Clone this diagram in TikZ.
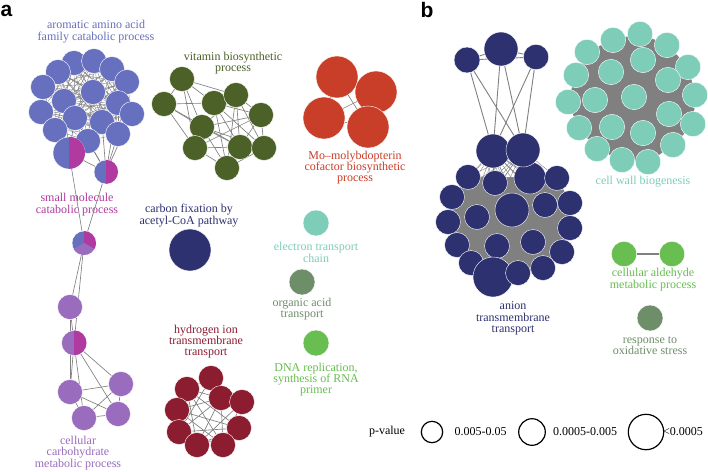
\documentclass[tikz,border=0pt]{standalone}
\usepackage{fontspec}
\setmainfont{Liberation Serif}
\newfontfamily\panelfont{Liberation Sans}
\pgfdeclarelayer{bg}
\pgfsetlayers{bg,main}
\definecolor{aroma}{RGB}{102,112,190}
\definecolor{magen}{RGB}{176,58,160}
\definecolor{lav}{RGB}{154,108,190}
\definecolor{vitg}{RGB}{75,97,40}
\definecolor{mored}{RGB}{200,62,40}
\definecolor{navy}{RGB}{45,49,112}
\definecolor{teal}{RGB}{125,205,185}
\definecolor{ggreen}{RGB}{110,142,106}
\definecolor{bgreen}{RGB}{104,190,80}
\definecolor{dred}{RGB}{140,28,48}
\definecolor{edgegray}{RGB}{128,128,128}
\begin{document}
\begin{tikzpicture}[x=1pt,y=-1pt,
  bub/.style={circle,inner sep=0pt,minimum size={2*#1pt},draw=white,line width=0.4pt},
  lbl/.style={align=center,font=\fontsize{12}{11.3}\selectfont,inner sep=0pt},
  edge/.style={draw=edgegray,line width=0.65pt},
  legc/.style={circle,inner sep=0pt,minimum size={2*#1pt},draw=black,line width=1.2pt},
  panel/.style={font=\panelfont\bfseries\fontsize{21}{21}\selectfont,inner sep=0pt}]
\useasboundingbox (0,0) rectangle (708,471);

% ---------------- panel labels
\node[panel] (pa) at (6.5,11) {a};
\node[panel] (pb) at (427,10) {b};

% ---------------- aromatic amino acid cluster
\foreach \n/\x/\y in {1/74/63,2/94/61,3/112/69,4/58/72,5/127/82,6/43/87,7/93/92,8/64/101,
  9/118/103,10/41/112,11/132/114,12/75/118,13/102/122,14/55/130,15/118/134,16/88/141}
  \node[bub=12.5,fill=aroma] (A\n) at (\x,\y) {};
\node[bub=16,fill=aroma] (P1) at (69,153) {};
\node[bub=12,fill=aroma] (P2) at (106,172) {};
\node[bub=12,fill=aroma] (P3) at (84,243) {};
\fill[magen] (P1.north) arc[start angle=90,end angle=-90,radius=16pt] -- cycle;
\fill[magen] (P2.north) arc[start angle=90,end angle=-90,radius=12pt] -- cycle;
\fill[magen] (P3.center) -- +(90:12pt) arc[start angle=90,end angle=-30,radius=12pt] -- cycle;
\fill[lav] (P3.center) -- +(-30:12pt) arc[start angle=-30,end angle=-150,radius=12pt] -- cycle;
\node[lbl,text=aroma] (Lar) at (96,31.5) {aromatic amino acid\\family catabolic process};
\node[lbl,text=magen] (Lsm) at (77,204.5) {small molecule\\catabolic process};

% ---------------- cellular carbohydrate
\node[bub=12.5,fill=lav] (C1) at (70,307) {};
\node[bub=12.5,fill=lav] (C2) at (74,343) {};
\fill[magen] (C2.north) arc[start angle=90,end angle=-90,radius=12.5pt] -- cycle;
\node[bub=12.5,fill=lav] (C3) at (70,392) {};
\node[bub=12.5,fill=lav] (C4) at (121,384) {};
\node[bub=12.5,fill=lav] (C5) at (84,418) {};
\node[bub=12.5,fill=lav] (C6) at (118,414) {};
\node[lbl,text=lav] (Lcc) at (78,453) {cellular\\carbohydrate\\metabolic process};

% ---------------- vitamin
\foreach \n/\x/\y in {1/182/79,2/164/104,3/214/103,4/236/95,5/261/115,6/202/127,
  7/195/148,8/240/147,9/264/148,10/227/168}
  \node[bub=12.5,fill=vitg] (V\n) at (\x,\y) {};
\node[lbl,text=vitg] (Lvi) at (233,63) {vitamin biosynthetic\\process};

% ---------------- Mo-molybdopterin
\node[bub=21,fill=mored] (M1) at (337,77) {};
\node[bub=21,fill=mored] (M2) at (376,92) {};
\node[bub=21,fill=mored] (M3) at (324,118) {};
\node[bub=21,fill=mored] (M4) at (368,127) {};
\node[lbl,text=mored] (Lmo) at (355,167.5) {Mo\textendash molybdopterin\\cofactor biosynthetic\\process};

% ---------------- carbon fixation
\node[lbl,text=navy] (Lcf) at (189,215.5) {carbon fixation by\\acetyl-CoA pathway};
\node[bub=21,fill=navy] (CF) at (190,250) {};

% ---------------- singles
\node[bub=13,fill=teal] (ET) at (316,223) {};
\node[lbl,text=teal] (Let) at (316,252.5) {electron transport\\chain};
\node[bub=13,fill=ggreen] (OA) at (302,282) {};
\node[lbl,text=ggreen] (Loa) at (302,309) {organic acid\\transport};
\node[bub=13,fill=bgreen] (DR) at (316,343) {};
\node[lbl,text=bgreen] (Ldr) at (316,379.5) {DNA replication,\\synthesis of RNA\\primer};

% ---------------- hydrogen ion
\foreach \n/\x/\y in {1/211/378,2/187/389,3/221/398,4/242/402,5/177/410,6/239/428,
  7/179/432,8/197/445,9/223/445}
  \node[bub=12.5,fill=dred] (H\n) at (\x,\y) {};
\node[lbl,text=dred] (Lhy) at (206,341.5) {hydrogen ion\\transmembrane\\transport};

% ---------------- anion transmembrane transport
\node[bub=13,fill=navy] (T1) at (467,60) {};
\node[bub=17,fill=navy] (T2) at (501,49) {};
\node[bub=12.7,fill=navy] (T3) at (536,57) {};
\foreach \n/\x/\y/\r in {1/468/177/12.5,2/495/183/12.5,3/530/178/16,4/557/178/12.5,
  5/452/197/12.5,6/512/210/17,7/545/205/12.5,8/570/203/12.5,9/448/222/12.5,
  10/477/217/12.5,11/570/228/12.5,12/457/245/12.5,13/497/246/12.5,14/533/242/12.5,
  15/562/252/12.5,16/471/263/12.5,17/493/277/20,18/518/273/12.5,19/543/268/12.5}
  \node[bub=\r,fill=navy] (L\n) at (\x,\y) {};
\node[bub=17,fill=navy] (B1) at (493,151) {};
\node[bub=17,fill=navy] (B2) at (523,150) {};
\node[lbl,text=navy] (Lan) at (513,318.5) {anion\\transmembrane\\transport};

% ---------------- cell wall biogenesis
\foreach \n/\x/\y in {1/640/34,2/613/40,3/667/45,4/587/52,5/643/60,6/688/67,7/611/72,
  8/576/75,9/668/80,10/634/97,11/695/95,12/568/102,13/595/100,14/669/114,15/693/124,
  16/579/128,17/612/127,18/643/133,19/673/145,20/597/149,21/622/160,22/648/162}
  \node[bub=12.7,fill=teal] (W\n) at (\x,\y) {};
\node[lbl,text=teal] (Lcw) at (643,182) {cell wall biogenesis};

% ---------------- aldehyde / oxidative
\node[bub=12.7,fill=bgreen] (D1) at (624,254) {};
\node[bub=12.7,fill=bgreen] (D2) at (672,254) {};
\node[lbl,text=bgreen] (Lal) at (653,279.5) {cellular aldehyde\\metabolic process};
\node[bub=13,fill=ggreen] (OX) at (650,318) {};
\node[lbl,text=ggreen] (Lox) at (650,345.5) {response to\\oxidative stress};

% ---------------- legend
\node[lbl] (Lpv) at (387,432) {p-value};
\node[legc=10.7] (G1) at (432,432) {};
\node[lbl] (Lg1) at (480.5,432) {0.005-0.05};
\node[legc=13.3] (G2) at (532,432) {};
\node[lbl] (Lg2) at (585,432) {0.0005-0.005};
\node[legc=17.7] (G3) at (646,432) {};
\node[lbl,anchor=west] (Lg3) at (663,432) {<0.0005};

% ================= edges (background layer)
\begin{pgfonlayer}{bg}
  \fill[white] (0,0) rectangle (708,471);
  % hull fills for dense clusters
  \fill[edgegray] (W1.center) -- (W3.center) -- (W6.center) -- (W11.center) -- (W15.center)
    -- (W19.center) -- (W22.center) -- (W21.center) -- (W20.center) -- (W16.center)
    -- (W12.center) -- (W8.center) -- (W4.center) -- (W2.center) -- cycle;
  \fill[edgegray] (L1.center) -- (L3.center) -- (L4.center) -- (L8.center) -- (L11.center)
    -- (L15.center) -- (L19.center) -- (L18.center) -- (L17.center) -- (L16.center)
    -- (L12.center) -- (L9.center) -- (L5.center) -- cycle;
  % aromatic all pairs
  \foreach \i in {1,...,15}{
    \pgfmathtruncatemacro\s{\i+1}
    \foreach \j in {\s,...,16}{\draw[edge,line width=0.4pt] (A\i) -- (A\j);}}
  \foreach \a in {A8,A10,A12,A14,A16,A13}{\draw[edge] (P1) -- (\a);}
  \foreach \a in {A16,A15,A13,A11,A9,A12,P1}{\draw[edge] (P2) -- (\a);}
  \draw[edge] (P1) -- (P3);
  \draw[edge] (P2) -- (P3);
  \draw[edge] (P3) -- (C1);
  \draw[edge] (P3) -- (C2);
  % carbohydrate
  \foreach \a/\b in {C1/C2,C1/C3,C2/C3,C2/C4,C2/C5,C2/C6,C3/C4,C3/C5,C3/C6,C4/C5,C4/C6,C5/C6}
    {\draw[edge] (\a) -- (\b);}
  % vitamin
  \foreach \a/\b in {V1/V2,V1/V3,V1/V4,V1/V6,V1/V7,V2/V3,V2/V6,V2/V7,V2/V8,V3/V5,V3/V8,V3/V9,
    V3/V10,V4/V5,V4/V6,V4/V8,V4/V9,V4/V10,V5/V6,V5/V7,V5/V8,V5/V9,V6/V8,V6/V9,V6/V10,
    V7/V8,V7/V10,V8/V9,V8/V10,V9/V10}
    {\draw[edge] (\a) -- (\b);}
  % Mo
  \foreach \a/\b in {M1/M2,M1/M3,M1/M4,M2/M3,M2/M4,M3/M4}{\draw[edge] (\a) -- (\b);}
  % hydrogen
  \foreach \a/\b in {H1/H2,H1/H3,H1/H4,H1/H7,H2/H3,H2/H5,H2/H6,H2/H8,H2/H9,H3/H4,H3/H5,
    H3/H7,H3/H8,H3/H9,H4/H6,H4/H8,H4/H9,H5/H6,H5/H7,H5/H9,H6/H7,H6/H8,H6/H9,H7/H8,H7/H9,H8/H9}
    {\draw[edge] (\a) -- (\b);}
  % anion
  \foreach \a/\b in {T1/T2,T2/T3,T1/T3,T1/B1,T1/B2,T2/B1,T2/B2,T3/B1,T3/B2,B1/B2}
    {\draw[edge,line width=0.9pt] (\a) -- (\b);}
  \foreach \b in {B1,B2}{\foreach \j in {1,...,19}{\draw[edge,line width=0.4pt] (\b) -- (L\j);}}
  \foreach \i in {1,...,18}{
    \pgfmathtruncatemacro\s{\i+1}
    \foreach \j in {\s,...,19}{\draw[edge,line width=0.5pt] (L\i) -- (L\j);}}
  % cell wall
  \foreach \i in {1,...,21}{
    \pgfmathtruncatemacro\s{\i+1}
    \foreach \j in {\s,...,22}{\draw[edge,line width=0.5pt] (W\i) -- (W\j);}}
  % aldehyde
  \draw[edge,line width=1.2pt] (D1) -- (D2);
\end{pgfonlayer}
\end{tikzpicture}
\end{document}
